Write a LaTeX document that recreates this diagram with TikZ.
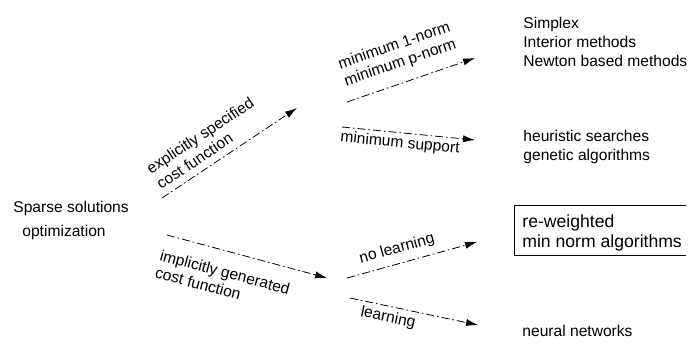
\documentclass[tikz,border=0pt]{standalone}
\usepackage{fontspec}
\setmainfont{Liberation Sans}
\usepackage{tikz}
\usetikzlibrary{arrows.meta,positioning}
\tikzstyle{txt} = [inner sep=0pt, align=left, anchor=west, font=\fontsize{7.8}{9.5}\selectfont]
\tikzstyle{lbl} = [inner sep=0pt, align=left, font=\fontsize{7.8}{9}\selectfont]
\tikzstyle{line} = [draw, line width=0.4pt, dash pattern=on 4pt off 1.5pt on 0.8pt off 1.5pt,
    -{Latex[length=6pt, width=3.6pt]}]

\begin{document}
\begin{tikzpicture}[x=0.5pt, y=-0.5pt]
    \useasboundingbox (0,0) rectangle (700,343);
    % Place nodes
    \node [txt, font=\fontsize{7.8}{12}\selectfont] (sparse) at (13,220) {Sparse solutions\\\hspace*{4.5pt}optimization};
    \node [txt] (simplex) at (523,42) {Simplex\\Interior methods\\Newton based methods};
    \node [txt] (heur) at (523,146.5) {heuristic searches\\genetic algorithms};
    \node [txt, font=\fontsize{8.8}{10}\selectfont] (reweight) at (522,233) {re-weighted\\min norm algorithms};
    \node [txt] (neural) at (522,331) {neural networks};
    % box round the re-weighted methods
    \draw [line width=0.4pt] (686,205) -- (514,205) -- (514,255) -- (686,255);
    % Free ends of the edges
    \coordinate (expS) at (162,198);
    \coordinate (expE) at (297,108);
    \coordinate (impS) at (167,235);
    \coordinate (impE) at (327,278);
    \coordinate (normS) at (347,102);
    \coordinate (normE) at (475,58);
    \coordinate (suppS) at (342,127);
    \coordinate (suppE) at (475,140);
    \coordinate (nolS) at (347,278);
    \coordinate (nolE) at (477,242);
    \coordinate (learnS) at (350,298);
    \coordinate (learnE) at (478,325);
    % Draw edges
    \path [line] (expS) -- (expE);
    \path [line] (impS) -- (impE);
    \path [line] (normS) -- (normE);
    \path [line] (suppS) -- (suppE);
    \path [line] (nolS) -- (nolE);
    \path [line] (learnS) -- (learnE);
    % Edge labels
    \node [lbl, rotate=33.7] (explbl) at (205,143) {explicitly specified\\cost function};
    \node [lbl, rotate=-15] (implbl) at (222.7,280.7) {implicitly generated\\cost function};
    \node [lbl, rotate=19] (normlbl) at (397.4,54.8) {minimum 1-norm\\minimum p-norm};
    \node [lbl, rotate=-5.6] (supplbl) at (400,143.5) {minimum support};
    \node [lbl, rotate=15.5] (nollbl) at (397,249) {no learning};
    \node [lbl, rotate=-11.9] (learnlbl) at (388,318) {learning};
\end{tikzpicture}
\end{document}
